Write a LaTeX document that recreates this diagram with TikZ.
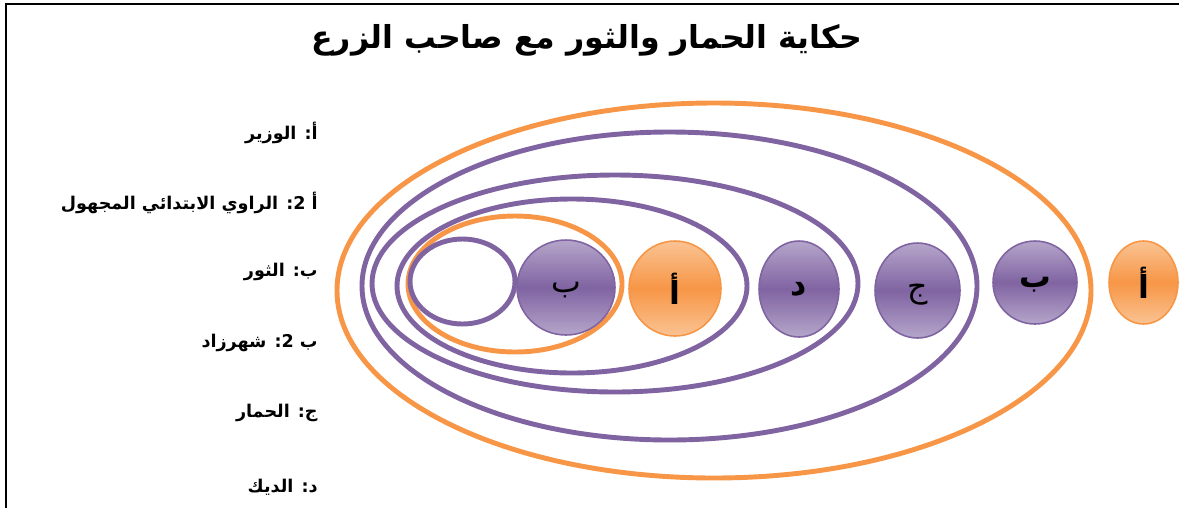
\documentclass[tikz,border=0pt]{standalone}
\usepackage{fontspec}
\usetikzlibrary{shapes.geometric}
\TeXXeTstate=1
\newfontfamily\arabicfont[Script=Arabic]{DejaVu Sans}
\definecolor{plum}{HTML}{8064A2}
\definecolor{plumlight}{HTML}{B5A5CA}
\definecolor{tangerine}{HTML}{F79646}
\definecolor{tangerinelight}{HTML}{FAC393}
\tikzset{
  ring/.style={line width=2.8pt},
  disc/.style={ellipse, inner sep=0pt, line width=0.9pt, text depth=0pt,
    font=\arabicfont\fontsize{18}{20}\selectfont},
  plumdisc/.style={disc, draw=plum, top color=plumlight, bottom color=plumlight, middle color=plum},
  orangedisc/.style={disc, draw=tangerine, top color=tangerinelight, bottom color=tangerinelight, middle color=tangerine},
  boldletter/.style={font=\arabicfont\bfseries\fontsize{18}{20}\selectfont},
  legend/.style={anchor=east, inner sep=0pt, font=\arabicfont\bfseries\fontsize{10}{12}\selectfont}
}
\begin{document}
\begin{tikzpicture}[x=0.02cm, y=-0.02cm]
\useasboundingbox (0,0) rectangle (1179,508);
\draw[line width=1.1pt] (6,508) -- (6,4) -- (1179,4);
\node[font=\arabicfont\bfseries\fontsize{18}{22}\selectfont] (title) at (587,40) {\beginR حكاية الحمار والثور مع صاحب الزرع\endR};
% nested frames
\draw[ring, tangerine] (714,290.5) ellipse (377 and 187.5);
\draw[ring, plum] (669.5,286) ellipse (307.5 and 154);
\draw[ring, plum] (615,283.5) ellipse (243 and 108.5);
\draw[ring, plum] (572,286) ellipse (175 and 87);
\draw[ring, tangerine] (515,284) ellipse (107 and 68);
\draw[ring, plum] (462.5,281.5) ellipse (52.5 and 42.5);
% narrators
\node[plumdisc, minimum width=1.96cm, minimum height=1.9cm] (b2) at (566,287.5) {\beginR ب\endR};
\node[orangedisc, boldletter, minimum width=1.84cm, minimum height=1.9cm] (a2) at (675,288.5) {\beginR أ\endR};
\node[plumdisc, boldletter, minimum width=1.6cm, minimum height=1.92cm] (d) at (799,289) {\beginR د\endR};
\node[plumdisc, minimum width=1.7cm, minimum height=1.9cm] (j) at (917.5,290.5) {\beginR ج\endR};
\node[plumdisc, boldletter, minimum width=1.68cm, minimum height=1.66cm] (b) at (1035,282.5) {\beginR ب\endR};
\node[orangedisc, boldletter, minimum width=1.38cm, minimum height=1.66cm] (a) at (1143.5,282.5) {\beginR أ\endR};
% key
\node[legend] (ka) at (318,133) {\beginR أ: الوزير\endR};
\node[legend] (ka2) at (318,203) {\beginR أ 2: الراوي الابتدائي المجهول\endR};
\node[legend] (kb) at (318,272) {\beginR ب: الثور\endR};
\node[legend] (kb2) at (318,343) {\beginR ب 2: شهرزاد\endR};
\node[legend] (kj) at (318,413) {\beginR ج: الحمار\endR};
\node[legend] (kd) at (318,487) {\beginR د: الديك\endR};
\end{tikzpicture}
\end{document}
